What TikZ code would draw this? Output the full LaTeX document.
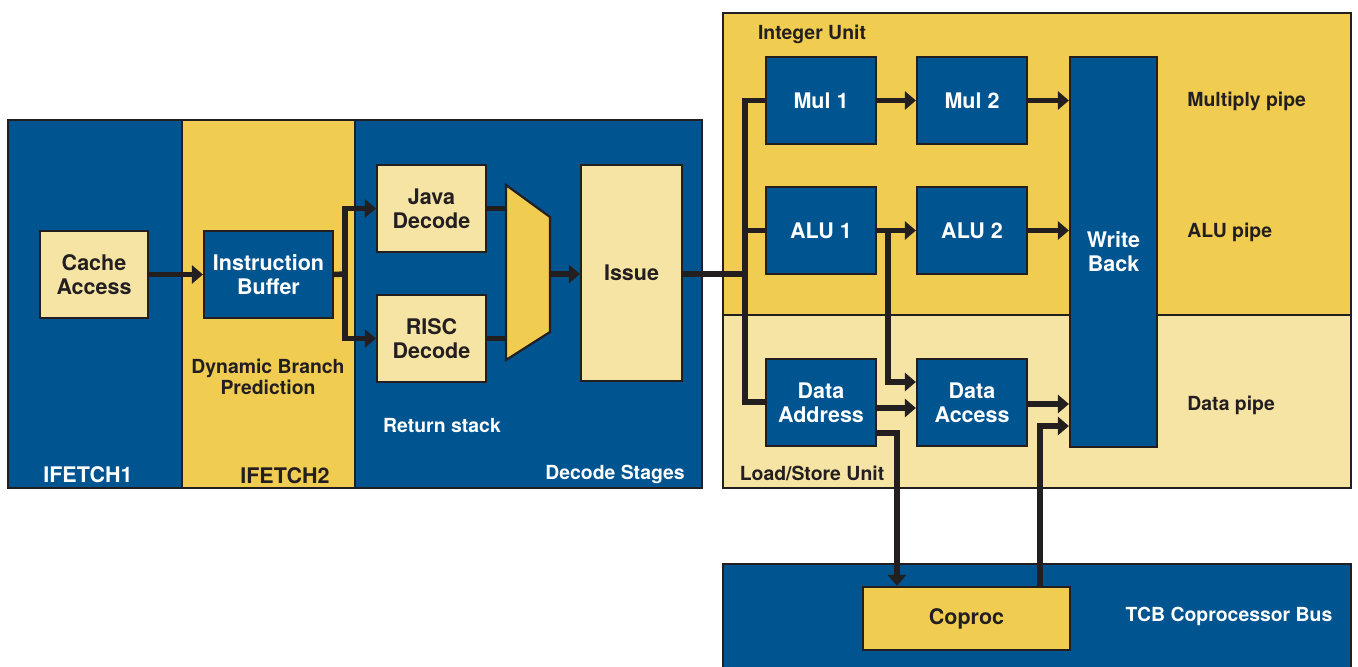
\documentclass[tikz,border=0pt]{standalone}
\usepackage{fontspec}
\setmainfont{TeX Gyre Heros}
\usetikzlibrary{arrows.meta,calc}
\definecolor{cblue}{RGB}{0,84,144}
\definecolor{cyel}{RGB}{240,205,80}
\definecolor{clight}{RGB}{246,228,164}
\definecolor{cdark}{RGB}{35,31,32}
\newcommand\boxfont{\fontsize{10.75}{12}\selectfont\bfseries}
\newcommand\labfont{\fontsize{9.7}{10.8}\selectfont\bfseries}
% \blkbox{name}{style}{x1}{y1}{x2}{y2}{text}
\newcommand\blkbox[7]{\node[#2, minimum width={(#5-#3)*0.5pt}, minimum height={(#6-#4)*0.5pt}] (#1) at ({(#3+#5)/2},{(#4+#6)/2}) {#7};}
\begin{document}
\begin{tikzpicture}[x=0.5pt,y=-0.5pt,
  panel/.style={draw=cdark, line width=0.8pt, inner sep=0pt},
  bluepanel/.style={panel, fill=cblue},
  yelpanel/.style={panel, fill=cyel},
  lightpanel/.style={panel, fill=clight},
  blk/.style={draw=cdark, line width=1.1pt, inner sep=0pt, align=center, font=\boxfont},
  blueblk/.style={blk, fill=cblue, text=white},
  lightblk/.style={blk, fill=clight, text=cdark},
  yelblk/.style={blk, fill=cyel, text=cdark},
  lab/.style={inner sep=0pt, align=center, font=\labfont, text=cdark},
  wlab/.style={lab, text=white},
  biglab/.style={font=\boxfont},
  conn/.style={draw=cdark, line width=2.75pt},
  arr/.style={conn, -{Triangle[length=5.5pt,width=9pt]}}]
\path[use as bounding box] (0,0) rectangle (1358,667);
\clip (0,0) rectangle (1358,667);

% panels
\blkbox{if1}{bluepanel}{8}{120}{182}{488}{}
\blkbox{if2}{yelpanel}{182}{120}{355}{488}{}
\blkbox{dec}{bluepanel}{355}{120}{702}{488}{}
\blkbox{intu}{yelpanel}{723}{13}{1351}{315}{}
\blkbox{lsu}{lightpanel}{723}{315}{1351}{488}{}
\blkbox{tcb}{bluepanel}{723}{564}{1351}{680}{}

% panel labels
\node[wlab, biglab] (t-if1) at (88,475) {IFETCH1};
\node[lab, biglab] (t-if2) at (285,476) {IFETCH2};
\node[lab] (t-dbp) at (268,377) {Dynamic Branch\\Prediction};
\node[wlab] (t-rs) at (442,426) {Return stack};
\node[wlab] (t-ds) at (615,474) {Decode Stages};
\node[lab] (t-iu) at (812,34) {Integer Unit};
\node[lab] (t-lsu) at (812,473) {Load/Store Unit};
\node[lab, anchor=west] (t-mp) at (1187,101) {Multiply pipe};
\node[lab, anchor=west] (t-ap) at (1187,232) {ALU pipe};
\node[lab, anchor=west] (t-dp) at (1187,405) {Data pipe};
\node[wlab] (t-tcb) at (1229,616) {TCB Coprocessor Bus};

% blocks
\blkbox{cache}{lightblk}{40}{231}{148}{318}{Cache\\Access}
\blkbox{ibuf}{blueblk}{204}{231}{333}{318}{Instruction\\Buffer}
\blkbox{java}{lightblk}{377}{165}{486}{252}{Java\\Decode}
\blkbox{risc}{lightblk}{377}{295}{486}{382}{RISC\\Decode}
\blkbox{issue}{lightblk}{581}{165}{682}{381}{Issue}
\blkbox{mul1}{blueblk}{766}{57}{876}{144}{Mul 1}
\blkbox{mul2}{blueblk}{917}{57}{1027}{144}{Mul 2}
\blkbox{alu1}{blueblk}{766}{187}{876}{274}{ALU 1}
\blkbox{alu2}{blueblk}{917}{187}{1027}{274}{ALU 2}
\blkbox{daddr}{blueblk}{766}{359}{876}{446}{Data\\Address}
\blkbox{dacc}{blueblk}{917}{359}{1027}{446}{Data\\Access}
\blkbox{wb}{blueblk}{1070}{57}{1157}{447}{Write\\Back}
\blkbox{coproc}{yelblk}{863}{587}{1070}{650}{Coproc}

% mux corners
\coordinate (m-tl) at (506,185);
\coordinate (m-bl) at (506,360);
\coordinate (m-tr) at (550,217);
\coordinate (m-br) at (550,332);
\coordinate (m-out) at (550,274);

% junction coordinates
\coordinate (split) at (345,274);
\coordinate (busbot) at (745,402);
\coordinate (j-alu) at (888,382);
\coordinate (j-da) at (0,408);
\coordinate (j-down) at (897,433);
\coordinate (j-up) at (1040,426);

% connectors
\draw[arr] (cache.east) -- (ibuf.west);
\draw[conn] (ibuf.east) -- (split);
\draw[arr] (split) |- (java.west);
\draw[arr] (split) |- (risc.west);
\draw[conn] (java.east) -- (java.east -| m-tl);
\draw[conn] (risc.east) -- (risc.east -| m-tl);
\draw[arr] (m-out) -- (issue.west |- m-out);
\draw[conn] (issue.east |- m-out) -- (m-out -| busbot);
\draw[conn] (mul1.west) -| (busbot) -- (daddr.west |- busbot);
\draw[conn] (alu1.west) -- (alu1.west -| busbot);
\draw[arr] (mul1.east) -- (mul2.west);
\draw[arr] (mul2.east) -- (wb.west |- mul2.east);
\draw[arr] (alu1.east) -- (alu2.west);
\draw[arr] (alu2.east) -- (wb.west |- alu2.east);
\draw[arr] (alu1.east -| j-alu) |- (dacc.west |- j-alu);
\draw[arr] (daddr.east |- j-da) -- (dacc.west |- j-da);
\draw[arr] ([yshift=-0.75pt]dacc.east) -- ([yshift=-0.75pt]dacc.east -| wb.west);
\draw[arr] (daddr.east |- j-down) -| (coproc.north -| j-down);
\draw[arr] (coproc.north -| j-up) |- (wb.west |- j-up);

% mux
\draw[draw=cdark, line width=1.1pt, fill=cyel, line join=miter] (m-tl) -- (m-tr) -- (m-br) -- (m-bl) -- cycle;
\end{tikzpicture}
\end{document}
